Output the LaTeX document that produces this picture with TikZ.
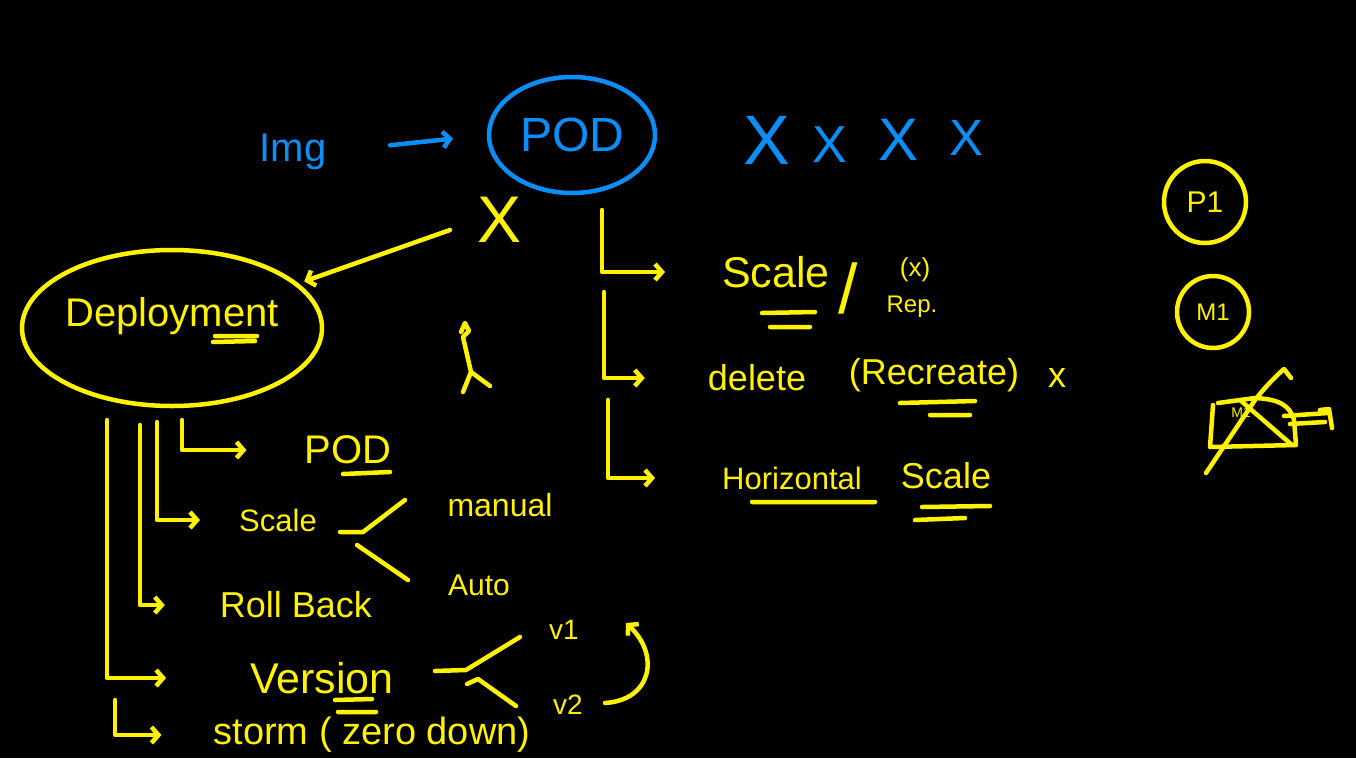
\documentclass[tikz,border=0pt]{standalone}
\usepackage{fontspec}
\setmainfont{Liberation Sans}
\usetikzlibrary{shapes.geometric,arrows.meta}
\definecolor{penblue}{RGB}{10,142,248}
\definecolor{penyellow}{RGB}{255,242,0}
\newcommand{\hand}[1]{\fontsize{#1}{#1}\selectfont}

\begin{document}
\begin{tikzpicture}[x=1pt,y=-1pt,
  blu/.style={draw=penblue,line width=4.5pt,line cap=round,line join=round},
  yel/.style={draw=penyellow,line width=4.5pt,line cap=round,line join=round},
  btxt/.style={text=penblue,inner sep=0pt},
  ytxt/.style={text=penyellow,inner sep=0pt},
  hook/.style={-{Straight Barb[length=7pt,width=16pt]}}]
\fill[black] (0,0) rectangle (1356,758);
\useasboundingbox (0,0) rectangle (1356,758);

\node[btxt,font=\hand{40}] (img) at (293,152) {Img};
\node[blu,ellipse,minimum width=166pt,minimum height=116pt,btxt,font=\hand{48}] (pod) at (572,135) {POD};
\draw[blu,hook,shorten <=64pt,shorten >=34pt] (img.east) -- (pod.west);
\foreach \n/\x/\y/\s in {1/767/140/70,2/830/145/52,3/898/140/60,4/966/138/51}
  \node[btxt,font=\hand{\s}] (cross\n) at (\x,\y) {X};

\node[ytxt,font=\hand{66}] (podx) at (500,220) {X};
\node[yel,ellipse,minimum width=300pt,minimum height=156pt] (deplbox) at (172,328) {};
\node[ytxt,font=\hand{40}] (depl) at (172,316) {Deployment};
\draw[yel] (215,336) -- (257,336) (213,342) -- (255,341);
\coordinate (cut) at (450,230);
\draw[yel,hook,shorten >=6pt] (cut) -- (deplbox);
\draw[yel] (461,332) -- (465,323) -- (469,331) -- (463,337) -- (471,372) -- (463,392) (471,372) -- (490,386);

\node[ytxt,font=\hand{40}] (dpod) at (348,450) {POD};
\node[ytxt,font=\hand{31}] (dscale) at (278,520) {Scale};
\node[ytxt,font=\hand{32}] (manual) at (500,505) {manual};
\node[ytxt,font=\hand{30}] (auto) at (479,585) {Auto};
\node[ytxt,font=\hand{36}] (rollback) at (296,605) {Roll Back};
\node[ytxt,font=\hand{43}] (version) at (322,678) {Version};
\node[ytxt,font=\hand{28}] (vone) at (564,630) {v1};
\node[ytxt,font=\hand{28}] (vtwo) at (568,705) {v2};
\node[ytxt,font=\hand{38}] (storm) at (372,735) {storm ( zero down)};
\draw[yel] (343,474) -- (390,472) (335,700) -- (372,699) (338,712) -- (376,712);

\coordinate (d1) at (182,420);
\coordinate (d2) at (157,422);
\coordinate (d3) at (140,425);
\coordinate (d4) at (107,420);
\coordinate (d5) at (115,700);
\draw[yel,hook,shorten >=58pt] (d1) |- (dpod.west);
\draw[yel,hook,shorten >=39pt] (d2) |- (dscale.west);
\draw[yel,hook,shorten >=55pt] (d3) |- (rollback.west);
\draw[yel,hook,shorten >=84pt] (d4) |- (version.west);
\draw[yel,hook,shorten >=52pt] (d5) |- (storm.west);

\coordinate (sj) at (363,532);
\coordinate (smanual) at (405,500);
\coordinate (sauto) at (408,580);
\draw[yel] (340,532) -- (sj) -- (smanual);
\draw[yel] (357,545) -- (sauto);
\coordinate (vj) at (466,670);
\coordinate (vup) at (520,637);
\coordinate (vdown) at (516,706);
\draw[yel] (435,671) -- (vj) -- (vup);
\draw[yel] (467,684) -- (478,679) -- (vdown);
\coordinate (vtail) at (605,703);
\coordinate (vtip) at (626,623);
\draw[yel,hook] (vtail) .. controls (652,700) and (660,655) .. (vtip);

\coordinate (p1) at (602,210);
\coordinate (p2) at (604,292);
\coordinate (p3) at (608,400);
\node[ytxt,font=\hand{43}] (rscale) at (776,272) {Scale};
\node[ytxt,font=\hand{70}] (slash) at (848,288) {/};
\node[ytxt,font=\hand{26}] (xrep) at (915,270) {(x)};
\node[ytxt,font=\hand{24}] (rep) at (912,307) {Rep.};
\node[ytxt,font=\hand{36}] (delete) at (757,378) {delete};
\node[ytxt,font=\hand{36}] (recreate) at (934,375) {(Recreate)};
\node[ytxt,font=\hand{36}] (delx) at (1057,378) {x};
\node[ytxt,font=\hand{31}] (horiz) at (792,478) {Horizontal};
\node[ytxt,font=\hand{36}] (hscale) at (946,476) {Scale};
\draw[yel,hook,shorten >=57pt] (p1) |- (rscale.west);
\draw[yel,hook,shorten >=63pt] (p2) |- (delete.west);
\draw[yel,hook,shorten >=67pt] (p3) |- (horiz.west);
\draw[yel] (762,313) -- (815,312) (770,327) -- (810,327);
\draw[yel] (900,403) -- (975,401) (930,415) -- (970,415);
\draw[yel] (752,502) -- (875,502) (922,507) -- (990,506) (915,520) -- (965,518);

\node[yel,circle,minimum size=82pt,ytxt,font=\hand{30}] (pone) at (1205,202) {P1};
\node[yel,circle,minimum size=72pt,ytxt,font=\hand{24}] (mone) at (1213,312) {M1};
\node[ytxt,font=\hand{14}] (mtwo) at (1241,413) {M1};
\draw[yel] (1213,405) -- (1210,447) -- (1296,445) -- (1294,420) .. controls (1290,405) and (1278,399) .. (1255,398) -- (1218,403);
\draw[yel] (1206,473) -- (1255,400) .. controls (1265,387) and (1277,375) .. (1284,369) -- (1291,378);
\draw[yel] (1240,400) -- (1292,445);
\draw[yel] (1284,416) -- (1328,413) (1290,424) -- (1325,422);
\draw[yel] (1320,410) -- (1329,409) -- (1332,428);
\end{tikzpicture}
\end{document}
